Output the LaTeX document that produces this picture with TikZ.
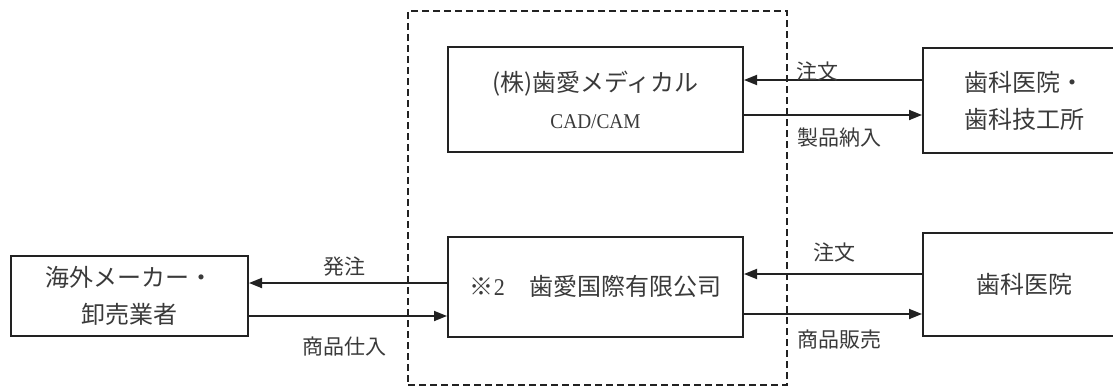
\documentclass[tikz,border=0pt]{standalone}
\usepackage{fontspec}
\newfontfamily\cjk{Noto Sans CJK JP}
\newfontfamily\lat[FakeStretch=0.92]{Liberation Serif}
\usetikzlibrary{arrows.meta}
\definecolor{ink}{HTML}{222222}
\definecolor{txt}{HTML}{3a3a3a}
\begin{document}
\begin{tikzpicture}[x=1pt,y=-1pt,
  box/.style={draw=ink,line width=2pt,inner sep=0pt,align=center,text=txt,
    font=\cjk\fontsize{24}{37}\selectfont},
  flow/.style={draw=ink,line width=1.8pt,-{Triangle[length=13pt,width=10pt]}},
  lab/.style={text=txt,font=\cjk\fontsize{21}{24}\selectfont,inner sep=0pt},
  frame/.style={draw=ink,line width=1.8pt,dash pattern=on 7pt off 4pt,inner sep=0pt}]
\useasboundingbox (0,0) rectangle (1113,388);
\node[frame,minimum width=379,minimum height=374] (grp) at (597.5,198) {};
\node[box,minimum width=295,minimum height=105] (m1) at (595.5,99.5)
  {(株)歯愛メディカル\\{\lat\fontsize{21}{37}\selectfont CAD/CAM}};
\node[box,minimum width=295,minimum height=100] (m2) at (595.5,286.5)
  {※{\lat 2}\hspace{1em}歯愛国際有限公司};
\node[box,minimum width=237,minimum height=80] (l1) at (129.5,296)
  {海外メーカー・\\卸売業者};
\node[box,minimum width=202,minimum height=105] (r1) at (1024,100.5)
  {歯科医院・\\歯科技工所};
\node[box,minimum width=202,minimum height=103] (r2) at (1024,284.5)
  {歯科医院};
\draw[flow] (r1.west |- 0,80) -- (m1.east |- 0,80);
\draw[flow] (m1.east |- 0,115) -- (r1.west |- 0,115);
\draw[flow] (r2.west |- 0,274) -- (m2.east |- 0,274);
\draw[flow] (m2.east |- 0,314) -- (r2.west |- 0,314);
\draw[flow] (m2.west |- 0,283) -- (l1.east |- 0,283);
\draw[flow] (l1.east |- 0,316) -- (m2.west |- 0,316);
\node[lab] (t1) at (817,72) {注文};
\node[lab] (t2) at (839,138) {製品納入};
\node[lab] (t3) at (834,253) {注文};
\node[lab] (t4) at (839,340) {商品販売};
\node[lab] (t5) at (344,267) {発注};
\node[lab] (t6) at (344,347) {商品仕入};
\end{tikzpicture}
\end{document}
